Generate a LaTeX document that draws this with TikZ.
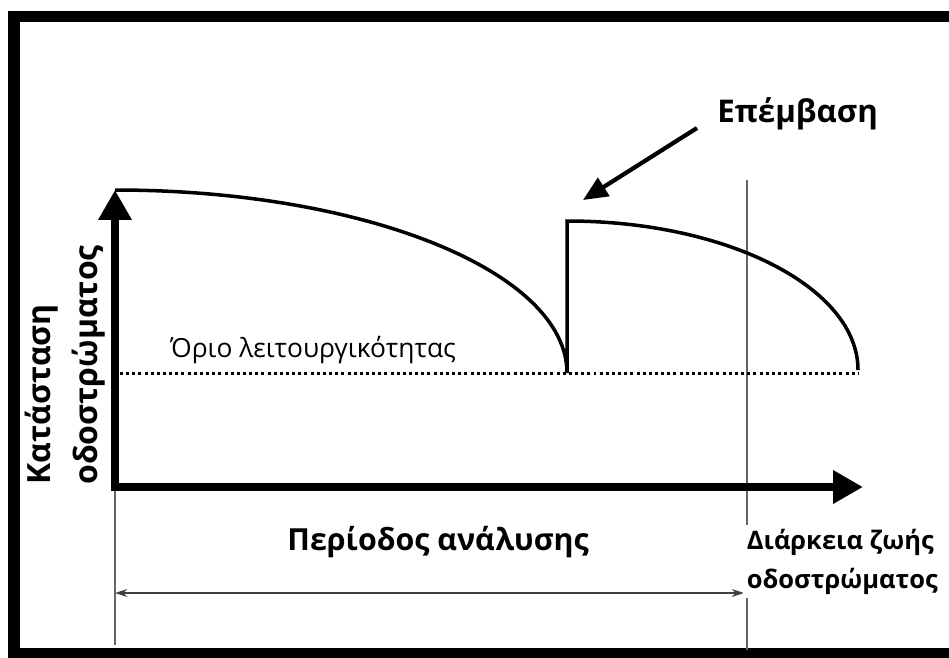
\documentclass[tikz,border=0pt]{standalone}
\usepackage{fontspec}
\setmainfont{Open Sans}
\usetikzlibrary{arrows.meta}

\begin{document}
\begin{tikzpicture}[x=0.02cm, y=-0.02cm, >=Latex]

\tikzset{
  frameline/.style={line width=6.5pt, line join=miter},
  axisline/.style={line width=5pt, line join=miter,
    {Triangle[length=17pt,width=18pt]}-{Triangle[length=17pt,width=18pt]}},
  curveline/.style={line width=2pt, line join=miter},
  limitline/.style={line width=1.7pt, dash pattern=on 1.7pt off 1.8pt},
  thinline/.style={line width=0.8pt, draw=black!60},
  spanarrow/.style={line width=0.9pt, draw=black!75,
    {Stealth[length=7pt,width=4.5pt]}-{Stealth[length=7pt,width=4.5pt]}},
  pointer/.style={line width=2.4pt, -{Triangle[length=14pt,width=12pt]}},
  boldlabel/.style={font=\bfseries\fontsize{17.3}{22}\selectfont, inner sep=0pt},
  plainlabel/.style={font=\fontsize{15}{19}\selectfont, inner sep=0pt}
}

\useasboundingbox (0,0) rectangle (949,657);

% =========================================================
% Outer frame (open on the right)
% =========================================================
\draw[frameline] (960,16.5) -- (14,16.5) -- (14,654) -- (960,654);

% =========================================================
% Key points
% =========================================================
\coordinate (O)      at (115,487);
\coordinate (ytip)   at (115,190);
\coordinate (xtip)   at (863,487);
\coordinate (drop)   at (567,373);
\coordinate (renew)  at (567,221);
\coordinate (fail)   at (858,370);
\coordinate (lim0)   at (120,373);
\coordinate (lim1)   at (858,373);
\coordinate (life0)  at (747,180);
\coordinate (life1)  at (747,650);
\coordinate (start0) at (115,491);
\coordinate (start1) at (115,645);
\coordinate (spanL)  at (115,593);
\coordinate (spanR)  at (744,593);
\coordinate (tail)   at (697,128);
\coordinate (hit)    at (583,200);

% =========================================================
% Thin guide lines and span arrow
% =========================================================
\draw[thinline] (life0) -- (life1);
\draw[thinline] (start0) -- (start1);
\draw[spanarrow] (spanL) -- (spanR);

% =========================================================
% Threshold, condition curve, axes
% =========================================================
\draw[limitline] (lim0) -- (lim1);
\draw[curveline] (ytip) .. controls (365,190) and (567,272) .. (drop)
  -- (renew) .. controls (728,221) and (858,288) .. (fail);
\draw[axisline] (ytip) -- (O) -- (xtip);

% =========================================================
% Labels
% =========================================================
\node[plainlabel, anchor=base west] (limit) at (170,357) {Όριο λειτουργικότητας};
\node[boldlabel, font=\bfseries\fontsize{17.8}{22}\selectfont,
  anchor=base west] (interv) at (717,122) {Επέμβαση};
\draw[pointer] (tail) -- (hit);
\node[boldlabel, anchor=base west] (period) at (287,550) {Περίοδος ανάλυσης};
\node[boldlabel, font=\bfseries\fontsize{14.5}{22.2}\selectfont, fill=white,
  align=left, anchor=north west, inner sep=2pt] (life) at (743,525)
  {Διάρκεια ζωής\\οδοστρώματος};
\node[boldlabel, font=\bfseries\fontsize{18.2}{26.6}\selectfont, rotate=90,
  align=left, anchor=base west] (state) at (97,485)
  {Κατάσταση\\οδοστρώματος};

\end{tikzpicture}
\end{document}
